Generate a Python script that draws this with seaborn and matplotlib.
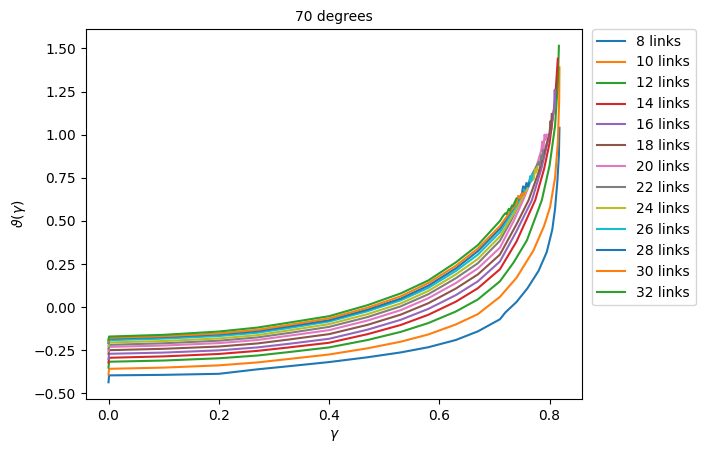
import numpy as np
import pandas as pd
import matplotlib
matplotlib.use("Agg")
import matplotlib.pyplot as plt
import seaborn as sns

links = [8, 10, 12, 14, 16, 18, 20, 22, 24, 26, 28, 30, 32]

base_x = [0.0, 0.001, 0.1, 0.2, 0.27, 0.33, 0.4, 0.47, 0.53, 0.58, 0.63, 0.67, 0.71]

base_y = {
    8:  [-0.435, -0.395, -0.392, -0.386, -0.360, -0.341, -0.318, -0.290, -0.262, -0.232, -0.190, -0.140, -0.070],
    10: [-0.390, -0.357, -0.350, -0.337, -0.320, -0.299, -0.274, -0.238, -0.200, -0.158, -0.100, -0.040, 0.060],
    12: [-0.350, -0.316, -0.309, -0.296, -0.280, -0.259, -0.233, -0.190, -0.143, -0.092, -0.025, 0.045, 0.150],
    14: [-0.320, -0.293, -0.285, -0.271, -0.253, -0.232, -0.206, -0.156, -0.103, -0.044, 0.032, 0.110, 0.220],
    16: [-0.300, -0.270, -0.263, -0.250, -0.233, -0.211, -0.183, -0.130, -0.073, -0.010, 0.070, 0.150, 0.265],
    18: [-0.270, -0.249, -0.241, -0.228, -0.210, -0.186, -0.156, -0.102, -0.043, 0.023, 0.108, 0.190, 0.305],
    20: [-0.255, -0.230, -0.222, -0.208, -0.190, -0.164, -0.133, -0.077, -0.017, 0.052, 0.140, 0.225, 0.345],
    22: [-0.240, -0.218, -0.209, -0.194, -0.175, -0.148, -0.114, -0.057, 0.005, 0.075, 0.168, 0.255, 0.385],
    24: [-0.225, -0.204, -0.196, -0.181, -0.162, -0.133, -0.098, -0.040, 0.022, 0.094, 0.190, 0.280, 0.410],
    26: [-0.210, -0.191, -0.182, -0.167, -0.148, -0.119, -0.083, -0.023, 0.040, 0.112, 0.210, 0.305, 0.435],
    28: [-0.205, -0.182, -0.173, -0.158, -0.139, -0.110, -0.075, -0.014, 0.050, 0.125, 0.225, 0.325, 0.455],
    30: [-0.200, -0.177, -0.168, -0.152, -0.131, -0.101, -0.065, -0.003, 0.063, 0.140, 0.240, 0.340, 0.470],
    32: [-0.190, -0.170, -0.160, -0.141, -0.118, -0.088, -0.052, 0.012, 0.080, 0.155, 0.260, 0.360, 0.500],
}

tail_x = {
    8:  [0.72, 0.74, 0.76, 0.78, 0.795, 0.805, 0.81, 0.814, 0.817, 0.818],
    10: [0.74, 0.771, 0.79, 0.801, 0.81, 0.815, 0.8175, 0.818],
    12: [0.735, 0.759, 0.786, 0.80, 0.81, 0.815, 0.817],
    14: [0.74, 0.774, 0.79, 0.80, 0.81, 0.815],
    16: [0.74, 0.768, 0.785, 0.80, 0.807, 0.809, 0.8095, 0.8098, 0.81],
    18: [0.74, 0.762, 0.78, 0.795, 0.80, 0.802, 0.803, 0.804],
    20: [0.735, 0.752, 0.775, 0.785, 0.787, 0.789, 0.791, 0.793, 0.795],
    22: [0.73, 0.745, 0.77, 0.78, 0.782, 0.785, 0.787, 0.788],
    24: [0.74, 0.76, 0.765, 0.768, 0.771, 0.774, 0.776, 0.778],
    26: [0.74, 0.755, 0.76, 0.762, 0.765, 0.767, 0.769],
    28: [0.735, 0.75, 0.752, 0.756, 0.758, 0.761, 0.763],
    30: [0.73, 0.74, 0.743, 0.747, 0.75, 0.753, 0.755],
    32: [0.716, 0.72, 0.722, 0.726, 0.728, 0.732, 0.734, 0.737, 0.74],
}

tail_y = {
    8:  [-0.030, 0.03, 0.11, 0.21, 0.32, 0.45, 0.57, 0.72, 0.88, 1.04],
    10: [0.17, 0.33, 0.47, 0.58, 0.75, 0.95, 1.2, 1.39],
    12: [0.26, 0.388, 0.62, 0.82, 1.05, 1.3, 1.515],
    14: [0.38, 0.62, 0.80, 0.95, 1.2, 1.44],
    16: [0.44, 0.62, 0.80, 1.0, 1.12, 1.17, 1.26, 1.18, 1.24],
    18: [0.48, 0.62, 0.78, 0.95, 1.01, 1.08, 1.03, 1.12],
    20: [0.50, 0.62, 0.80, 0.91, 0.96, 0.92, 1.0, 0.97, 1.0],
    22: [0.50, 0.60, 0.78, 0.84, 0.82, 0.88, 0.86, 0.91],
    24: [0.57, 0.69, 0.73, 0.76, 0.74, 0.80, 0.78, 0.81],
    26: [0.59, 0.68, 0.71, 0.70, 0.76, 0.73, 0.77],
    28: [0.58, 0.66, 0.70, 0.69, 0.72, 0.70, 0.72],
    30: [0.56, 0.60, 0.645, 0.63, 0.66, 0.65, 0.665],
    32: [0.53, 0.545, 0.54, 0.57, 0.56, 0.59, 0.585, 0.61, 0.63],
}

xticks = [0.0, 0.2, 0.4, 0.6, 0.8]

rows = []
for n in links:
    xs = base_x + tail_x[n]
    ys = base_y[n] + tail_y[n]
    for i, (gx, gy) in enumerate(zip(xs, ys)):
        rows.append({"gamma": gx, "theta": gy, "series": f"{n} links", "idx": i})
df = pd.DataFrame(rows)

fig, ax = plt.subplots(figsize=(7.07, 4.53), dpi=100)
fig.subplots_adjust(left=0.1216, right=0.8232, top=0.936, bottom=0.119)

order = [f"{n} links" for n in links]
sns.lineplot(data=df, x="gamma", y="theta", hue="series", hue_order=order,
             palette=sns.color_palette("tab10", len(links)),
             sort=False, estimator=None, linewidth=1.5, ax=ax)

handles, labels = ax.get_legend_handles_labels()
ax.legend(handles, labels, loc="upper left", bbox_to_anchor=(1.02, 1.0),
          borderaxespad=0.0, fontsize=10)

ax.set_xticks(xticks)
ax.set_title("70 degrees", fontsize=10)
ax.set_xlabel(r"$\gamma$")
ax.set_ylabel(r"$\vartheta(\gamma)$")

fig.savefig("out.png", dpi=100)
